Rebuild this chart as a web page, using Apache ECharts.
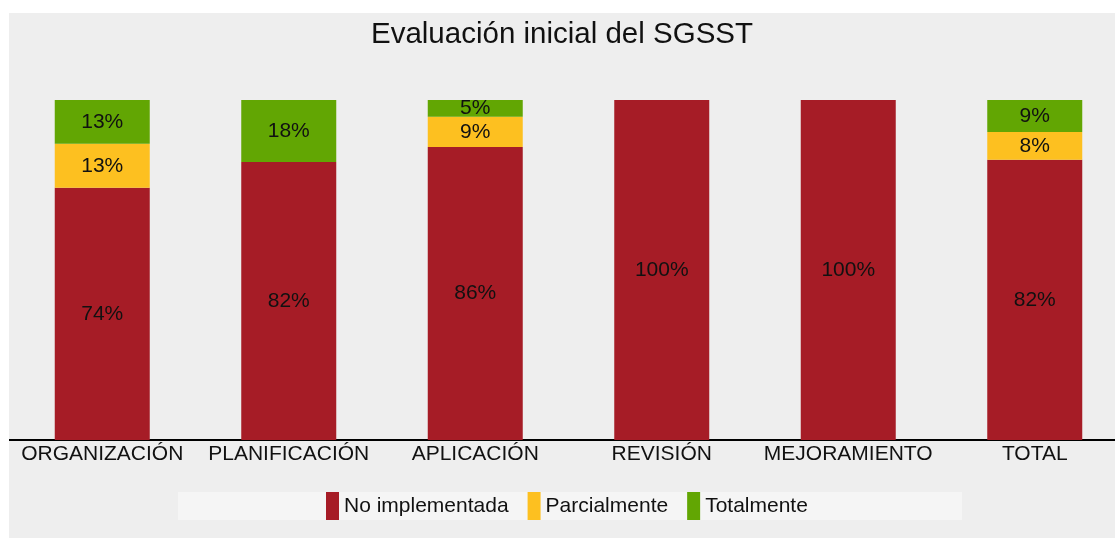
<!DOCTYPE html>
<html>
<head>
<meta charset="utf-8">
<script src="https://cdn.jsdelivr.net/npm/echarts@6/dist/echarts.min.js"></script>
<style>
  html, body { margin: 0; padding: 0; background: #ffffff; }
  #chart { position: absolute; left: 9px; top: 13px; width: 1106px; height: 525px; }
</style>
</head>
<body>
<div id="chart"></div>
<script>
// categories and percentages
var categories = ['ORGANIZACIÓN', 'PLANIFICACIÓN', 'APLICACIÓN', 'REVISIÓN', 'MEJORAMIENTO', 'TOTAL'];
var noImplementada = [74.2, 81.8, 86.2, 100, 100, 82.4];
var parcialmente = [12.9, 0, 8.9, 0, 0, 8.2];
var totalmente = [12.9, 18.2, 4.9, 0, 0, 9.4];

var colors = ['#a61c26', '#fdc020', '#62a603'];
var font = '"Liberation Sans", Arial, sans-serif';

var myChart = echarts.init(document.getElementById('chart'));

function makeSeries(name, data) {
    return {
        name: name,
        type: 'bar',
        stack: 'total',
        barWidth: 95,
        data: data,
        label: {
            show: true,
            position: 'inside',
            color: '#111',
            fontSize: 21,
            fontFamily: font,
            formatter: function (p) {
                return p.value > 0 ? Math.round(p.value) + '%' : '';
            }
        },
        emphasis: { disabled: true }
    };
}

var option = {
    backgroundColor: '#eeeeee',
    color: colors,
    animation: false,
    title: {
        text: 'Evaluación inicial del SGSST',
        left: 'center',
        top: 7,
        padding: 0,
        textStyle: { fontSize: 29.5, fontWeight: 'normal', color: '#111', fontFamily: font }
    },
    // lighter strip behind the legend
    graphic: [{
        type: 'rect',
        left: 169,
        top: 479,
        shape: { width: 784, height: 28 },
        style: { fill: '#f5f5f5' },
        z: -1
    }],
    legend: {
        left: 317,
        top: 479,
        padding: 0,
        icon: 'rect',
        itemWidth: 13,
        itemHeight: 28,
        itemGap: 19,
        textStyle: { fontSize: 21, color: '#111', fontFamily: font },
        data: ['No implementada', 'Parcialmente', 'Totalmente']
    },
    grid: { left: 0, width: 1119, top: 87, bottom: 98, outerBoundsMode: 'none', containLabel: false },
    xAxis: {
        type: 'category',
        data: categories,
        axisLine: { lineStyle: { color: '#000', width: 2 } },
        axisTick: { show: false },
        axisLabel: { fontSize: 21, color: '#111', fontFamily: font, margin: 4, interval: 0 }
    },
    yAxis: {
        type: 'value',
        min: 0,
        max: 100,
        show: false,
        splitLine: { show: false }
    },
    series: [
        makeSeries('No implementada', noImplementada),
        makeSeries('Parcialmente', parcialmente),
        makeSeries('Totalmente', totalmente)
    ]
};

myChart.setOption(option);
</script>
</body>
</html>
